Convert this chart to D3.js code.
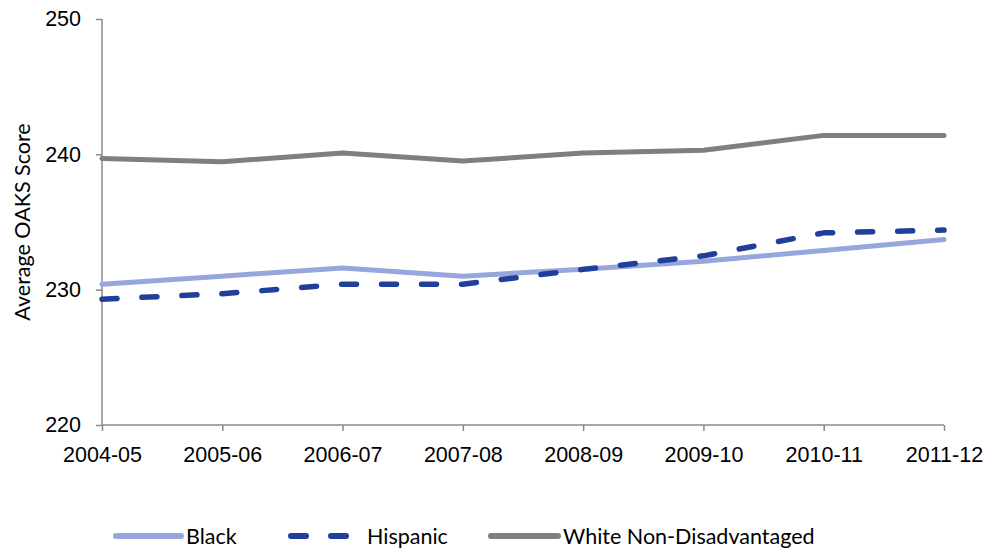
<!DOCTYPE html>
<html>
<head>
<meta charset="utf-8">
<script src="https://cdn.jsdelivr.net/npm/d3@7"></script>
<style>
  html, body { margin: 0; padding: 0; background: #fff; }
  svg { display: block; font-family: Lato, "Open Sans", sans-serif; }
</style>
</head>
<body>
<svg id="chart" width="1000" height="553"></svg>
<script>
// School years on the horizontal axis
const years = ["2004-05", "2005-06", "2006-07", "2007-08", "2008-09", "2009-10", "2010-11", "2011-12"];

// Average OAKS score by student group
const black    = [230.4, 231.0, 231.6, 231.0, 231.5, 232.1, 232.9, 233.7];
const hispanic = [229.3, 229.7, 230.4, 230.4, 231.5, 232.5, 234.2, 234.4];
const whiteNonDisadvantaged = [239.7, 239.45, 240.1, 239.5, 240.1, 240.3, 241.4, 241.4];

const yTicks = [220, 230, 240, 250];

const seriesNames = ["Black", "Hispanic", "White Non-Disadvantaged"];

const series = [
  { name: seriesNames[0], values: black,    color: "#97a6dc", dash: null,    width: 5 },
  { name: seriesNames[1], values: hispanic, color: "#203f9a", dash: "15,25", width: 5.5 },
  { name: seriesNames[2], values: whiteNonDisadvantaged, color: "#7f7f7f", dash: null, width: 5 }
];

const fontSize = "21.5px";

const svg = d3.select("#chart");

const x = d3.scalePoint().domain(years).range([102, 944]).padding(0);
const y = d3.scaleLinear().domain([220, 250]).range([425, 19]);

const axisColor = "#8a8a8a";

// Y axis
const yAxis = svg.append("g")
  .attr("transform", "translate(102,0)")
  .call(d3.axisLeft(y).tickValues(yTicks).tickSize(6).tickPadding(15).tickFormat(d3.format("d")));
yAxis.select(".domain").attr("stroke", axisColor).attr("stroke-width", 1.5).attr("d", "M0,19V425");
yAxis.selectAll(".tick line").attr("stroke", axisColor).attr("stroke-width", 1.5);
yAxis.selectAll(".tick text").attr("fill", "#000").style("font-size", fontSize);

// X axis
const xAxis = svg.append("g")
  .attr("transform", "translate(0,425)")
  .call(d3.axisBottom(x).tickSize(6).tickPadding(16));
xAxis.select(".domain").attr("stroke", axisColor).attr("stroke-width", 1.5).attr("d", "M102,0H944");
xAxis.selectAll(".tick line").attr("stroke", axisColor).attr("stroke-width", 1.5);
xAxis.selectAll(".tick text").attr("fill", "#000").style("font-size", fontSize);

// Y axis title
svg.append("text")
  .attr("transform", "translate(30,222) rotate(-90)")
  .attr("text-anchor", "middle")
  .style("font-size", fontSize)
  .attr("fill", "#000")
  .text("Average OAKS Score");

// Lines
const line = d3.line()
  .x((d, i) => x(years[i]))
  .y(d => y(d));

svg.append("g").selectAll("path")
  .data(series)
  .join("path")
  .attr("d", d => line(d.values))
  .attr("fill", "none")
  .attr("stroke", d => d.color)
  .attr("stroke-width", d => d.width)
  .attr("stroke-linecap", "round")
  .attr("stroke-linejoin", "round")
  .attr("stroke-dasharray", d => d.dash);

// Legend
const legendItems = [
  { s: series[0], x0: 116, x1: 181, tx: 186 },
  { s: series[1], x0: 291, x1: 347, tx: 367 },
  { s: series[2], x0: 491, x1: 558, tx: 563 }
];
const legend = svg.append("g");
legendItems.forEach(item => {
  legend.append("line")
    .attr("x1", item.x0).attr("x2", item.x1)
    .attr("y1", 536).attr("y2", 536)
    .attr("stroke", item.s.color)
    .attr("stroke-width", 6)
    .attr("stroke-linecap", "round")
    .attr("stroke-dasharray", item.s.dash);
  legend.append("text")
    .attr("x", item.tx).attr("y", 536)
    .attr("dy", "0.35em")
    .style("font-size", fontSize)
    .attr("fill", "#000")
    .text(item.s.name);
});
</script>
</body>
</html>
